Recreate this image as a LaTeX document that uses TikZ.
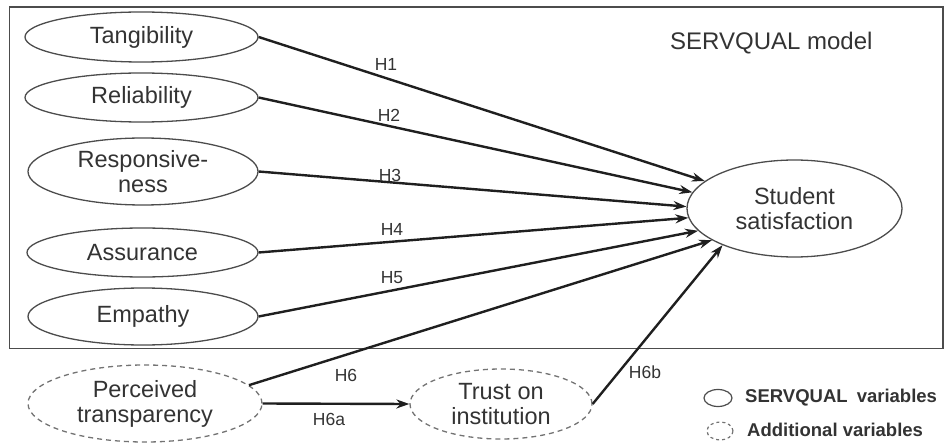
\documentclass[tikz,border=0pt]{standalone}
\usepackage{fontspec}
\setmainfont{Liberation Sans}
\usetikzlibrary{shapes.geometric,arrows.meta}

\tikzset{
  var/.style={ellipse, draw=black!70, line width=1.3pt, inner sep=0pt,
    align=center, text=black!80,
    font=\fontsize{23.5pt}{25pt}\selectfont},
  extra/.style={var, dash pattern=on 5pt off 4pt, draw=black!55},
  link/.style={line width=2.4pt, draw=black!88,
    -{Stealth[length=13pt,width=9pt]}},
  hyp/.style={inner sep=0pt, text=black!80, font=\fontsize{17.5pt}{19pt}\selectfont},
  legtext/.style={anchor=west, inner sep=0pt, text=black!80,
    font=\bfseries\fontsize{18.5pt}{20pt}\selectfont},
}

\begin{document}
\begin{tikzpicture}[x=1pt, y=-1pt]
  \useasboundingbox (0,0) rectangle (949,443);

  % frame of the SERVQUAL block
  \draw[line width=1.8pt, draw=black!70] (9.5,7) rectangle (943,348.5);
  \node[text=black!80, font=\fontsize{24pt}{26pt}\selectfont, anchor=west, inner sep=0pt]
    (title) at (670,43) {SERVQUAL model};

  % SERVQUAL dimensions
  \node[var, minimum width=233pt, minimum height=50pt] (tang)  at (141.5,37)   {Tangibility};
  \node[var, minimum width=233pt, minimum height=49pt] (rel)   at (141.5,97.5) {Reliability};
  \node[var, minimum width=230pt, minimum height=67pt] (resp)  at (143,171.5)  {Responsive-\\ness};
  \node[var, minimum width=231pt, minimum height=49pt] (assur) at (142.5,252.5){Assurance};
  \node[var, minimum width=230pt, minimum height=57pt] (emp)   at (143,316.5)  {Empathy};

  % additional variables
  \node[extra, minimum width=234pt, minimum height=77pt] (perc)  at (145,403.5) {Perceived\\transparency};
  \node[extra, minimum width=182pt, minimum height=70pt] (trust) at (501,404)   {Trust on\\institution};

  % outcome
  \node[var, minimum width=215pt, minimum height=97pt] (stud) at (794.5,208.5) {Student\\satisfaction};

  % hypothesised paths
  \draw[link] (tang.east)  -- (stud.163.5);
  \draw[link] (rel.east)   -- (stud.171);
  \draw[link] (resp.east)  -- (stud.179);
  \draw[link] (assur.east) -- (stud.185);
  \draw[link] (emp.east)   -- (stud.193.5);
  \draw[link] (perc.10)    -- (stud.201);
  \draw[link] (perc.east)  -- (trust.west);
  \draw[link] (trust.east) -- (stud.207);

  % path labels
  \node[hyp] (h1)  at (386,64)  {H1};
  \node[hyp] (h2)  at (389,115) {H2};
  \node[hyp] (h3)  at (390,175) {H3};
  \node[hyp] (h4)  at (392,229) {H4};
  \node[hyp] (h5)  at (392,278) {H5};
  \node[hyp] (h6)  at (346,375) {H6};
  \node[hyp] (h6a) at (329,419) {H6a};
  \node[hyp] (h6b) at (645,372) {H6b};

  % legend
  \node[ellipse, draw=black!70, line width=1.2pt, minimum width=28pt, minimum height=17pt,
    inner sep=0pt] (legs) at (718,398) {};
  \node[ellipse, draw=black!55, line width=1.2pt, dash pattern=on 3pt off 3pt,
    minimum width=26pt, minimum height=18pt, inner sep=0pt] (lega) at (720,431) {};
  \node[legtext] (legst) at (745,398) {SERVQUAL\hspace{4pt} variables};
  \node[legtext] (legat) at (747,430) {Additional variables};
\end{tikzpicture}
\end{document}
